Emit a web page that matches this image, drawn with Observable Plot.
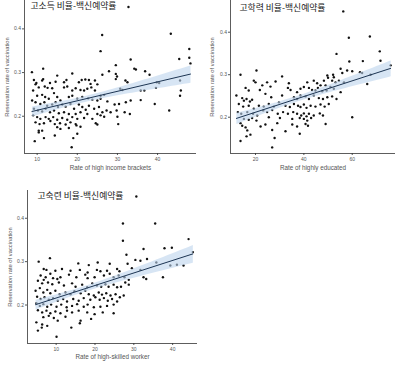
<!DOCTYPE html>
<html>
<head>
<meta charset="utf-8">
<script src="https://cdn.jsdelivr.net/npm/d3@7"></script>
<script src="https://cdn.jsdelivr.net/npm/@observablehq/plot@0.6"></script>
<style>
  html, body { margin: 0; padding: 0; background: #fff; }
  #wrap { position: relative; width: 400px; height: 365px; overflow: hidden; font-family: "Liberation Sans", Arial, sans-serif; }
  #wrap > div { position: absolute; }
</style>
</head>
<body>
<div id="wrap">
  <div id="p1" style="left:0px; top:0px;"></div>
  <div id="p2" style="left:200px; top:0px;"></div>
  <div id="p3" style="left:0px; top:183px;"></div>
</div>
<script>
// ---------- Panel 1: high income brackets ----------
const incomeX = [32.75,26.2,43.3,25.8,47.9,47.9,45.4,33.3,48.2,29.6,34.2,34.6,8.7,11.5,18.75,15,27.9,26.25,29.6,36.9,38,9.2,11.25,11.5,14.6,16.7,17.3,20.4,21.1,22,22.9,24.4,25,23.3,29.6,29.9,32,32.5,39.8,40.4,45.6,45.8,45.6,9.8,9.6,10.4,11.9,12.6,13.75,13.2,16.7,17.5,18.75,19.6,20.8,21.7,22.5,23.5,24.4,25.8,26.7,30.7,31.25,36.7,35.8,39.6,9,10,11.25,12,12.9,14.2,15,15.8,17.9,18.75,20,21.25,22.7,23.75,25,25.8,27.5,29.3,30.4,32.1,33.3,35.8,39.3,42.9,8.75,9.6,10.8,11.8,12.5,13.75,14.6,15.2,16.25,17.1,18.3,19.2,20.4,21.25,22.1,22.9,24.2,25.4,26.25,27.3,28.3,29.8,31.8,33.1,9.2,10.2,11.25,12.1,13.2,14.2,15.4,16.7,17.9,19.6,20.8,22.5,25,25.8,26.7,9,10,10.8,12.1,12.9,14,15,16.25,17.5,18.75,20,21.7,23.75,30,9.6,10.6,11.7,13.3,14.4,15.7,17.1,18.3,19.6,20.8,24.6,25,30.2,10.4,11.25,15,15.8,17.9,19.8,20,10.4,11.7,14.4,19,9.4,18.6];
const incomeY = [0.45,0.386,0.389,0.349,0.354,0.334,0.331,0.33,0.321,0.317,0.309,0.307,0.301,0.309,0.298,0.293,0.303,0.295,0.297,0.303,0.295,0.283,0.282,0.285,0.279,0.278,0.283,0.278,0.283,0.284,0.283,0.282,0.273,0.274,0.285,0.291,0.282,0.278,0.278,0.276,0.282,0.259,0.247,0.276,0.273,0.266,0.268,0.265,0.264,0.276,0.266,0.268,0.259,0.264,0.26,0.259,0.263,0.266,0.259,0.247,0.249,0.263,0.26,0.259,0.259,0.265,0.259,0.247,0.249,0.244,0.24,0.253,0.244,0.236,0.244,0.247,0.24,0.244,0.241,0.238,0.236,0.24,0.234,0.227,0.228,0.232,0.236,0.237,0.228,0.213,0.236,0.232,0.228,0.232,0.224,0.227,0.232,0.221,0.227,0.222,0.228,0.217,0.227,0.221,0.215,0.224,0.217,0.221,0.209,0.213,0.209,0.213,0.209,0.205,0.217,0.213,0.211,0.217,0.209,0.213,0.207,0.209,0.205,0.205,0.209,0.205,0.205,0.202,0.199,0.202,0.198,0.194,0.198,0.194,0.198,0.192,0.196,0.192,0.198,0.194,0.196,0.194,0.199,0.186,0.182,0.184,0.189,0.182,0.184,0.181,0.186,0.182,0.176,0.184,0.181,0.182,0.167,0.167,0.175,0.171,0.173,0.179,0.16,0.163,0.15,0.156,0.15,0.143,0.129];

// ---------- Panel 2: highly educated ----------
const eduX = [56.3,58.6,67.3,53.5,71.4,58.8,64.4,71.7,75.9,13.8,20.4,31,55.2,55.9,57.9,60,63.2,64.1,67.6,52.1,52.4,49.7,50,51.7,53.1,54.5,19.3,20,24.8,28.3,33.8,41.4,44.1,45.5,48.3,46.9,49,51,56.6,66.2,12.1,15.9,17.2,21.8,22.8,26.2,33.4,34.5,37.2,38.6,40,42.1,43.4,44.8,45.8,47.6,49.4,52.4,55.2,14.5,15.2,16.3,17.7,18.6,24.1,26.5,31,35.9,37.2,38.6,40.7,42.1,44.1,46.2,47.9,49.7,51.7,53.5,13.1,14.9,17.2,19.3,21.4,23.4,25.5,27.6,29.7,32.4,34.2,35.9,37.6,38.6,40,41.1,42.8,44.8,46.9,48.6,50.3,12.7,14.1,16.6,19,20.7,23.2,24.8,26.9,29.2,31.4,33.4,35.6,37.2,38.9,40,41.1,42.1,44.1,46.6,47.9,15.2,17.2,18.6,20.4,25.5,30.1,35.2,38.3,40,41.4,43,60,13.8,14.5,15.9,22.1,24.1,29,35.2,37.2,40.7,41.7,49,16.6,26.9,32.4,38.3,16.3,17.9,27.9,13.8,26.9];
const eduY = [0.449,0.387,0.39,0.349,0.355,0.331,0.332,0.333,0.322,0.3,0.31,0.296,0.314,0.304,0.31,0.308,0.306,0.304,0.3,0.3,0.294,0.298,0.293,0.286,0.282,0.286,0.286,0.282,0.282,0.284,0.28,0.282,0.286,0.28,0.286,0.275,0.275,0.271,0.282,0.278,0.251,0.269,0.263,0.264,0.275,0.272,0.269,0.264,0.259,0.267,0.271,0.269,0.264,0.263,0.269,0.261,0.263,0.267,0.259,0.245,0.239,0.243,0.237,0.241,0.255,0.247,0.251,0.247,0.243,0.251,0.249,0.243,0.251,0.245,0.243,0.247,0.249,0.243,0.231,0.225,0.227,0.22,0.227,0.225,0.231,0.225,0.235,0.227,0.224,0.231,0.227,0.224,0.23,0.222,0.227,0.225,0.23,0.225,0.231,0.212,0.208,0.212,0.208,0.204,0.216,0.212,0.217,0.208,0.212,0.208,0.212,0.208,0.204,0.209,0.202,0.208,0.204,0.209,0.204,0.196,0.194,0.198,0.192,0.2,0.198,0.196,0.198,0.196,0.192,0.198,0.2,0.186,0.18,0.176,0.178,0.183,0.186,0.183,0.178,0.184,0.18,0.184,0.169,0.17,0.167,0.161,0.155,0.159,0.151,0.144,0.129];

// ---------- Panel 3: high-skilled worker ----------
const skillX = [30.65,27.2,35.5,27.2,44.1,32.5,37.9,39.8,45.2,5.5,8.4,15.7,18.4,20.7,23.8,28.1,28.4,30.4,31.7,33.4,35.8,39.4,42.8,6.8,7.5,9.8,11.5,13.7,16.1,18.1,20.5,21.4,23.1,25.7,26.3,29.5,31.7,32.5,33.2,37.5,41.1,6,7.3,8.5,9.2,10.3,11.1,13.3,15.2,17.5,18.1,19.9,22.3,23.8,24.8,26.1,27.6,28.7,27.8,28.7,5.3,6.4,6.8,7.9,9,10.7,12,14.1,15,16.7,18,19.3,20.5,21.6,22.7,23.5,24.8,25.7,26.7,4.7,5.8,6.7,7.7,8.5,9.8,10.9,12.4,13.7,14.7,16.3,17.5,18.4,19.7,20.97,21.8,22.9,24,25.3,26.4,27.4,5.1,6,7,8.1,9.2,10.4,11.8,12.8,14.4,15.8,17.1,18.8,20.1,21.2,22.3,23.3,24.4,25.7,4.9,5.8,6.7,7.7,8.7,10.1,11.3,12.7,14.1,15.4,17.1,18.1,19.7,21.4,23.1,24.8,5.3,6.4,7.5,8.5,9.8,11.1,12.8,14.1,15.8,18,19.9,22,24.8,6.7,8.1,9.4,10.4,12.4,16.3,19,4.9,6.4,16.1,5.3,6.3,13.9,7.7,10.1];
const skillY = [0.45,0.388,0.388,0.348,0.352,0.329,0.331,0.332,0.322,0.3,0.308,0.296,0.292,0.298,0.295,0.316,0.295,0.304,0.302,0.306,0.298,0.291,0.291,0.283,0.281,0.279,0.283,0.279,0.281,0.275,0.281,0.278,0.279,0.283,0.278,0.285,0.281,0.264,0.26,0.264,0.293,0.268,0.264,0.272,0.262,0.26,0.264,0.27,0.264,0.27,0.262,0.264,0.268,0.272,0.264,0.268,0.264,0.258,0.252,0.247,0.256,0.25,0.258,0.252,0.248,0.252,0.245,0.25,0.242,0.247,0.241,0.25,0.245,0.242,0.248,0.242,0.247,0.241,0.242,0.233,0.239,0.229,0.235,0.227,0.233,0.225,0.229,0.225,0.232,0.227,0.233,0.225,0.222,0.229,0.224,0.227,0.222,0.225,0.218,0.222,0.219,0.214,0.218,0.212,0.216,0.21,0.214,0.208,0.214,0.21,0.216,0.212,0.218,0.212,0.216,0.21,0.214,0.208,0.204,0.198,0.202,0.196,0.201,0.196,0.201,0.195,0.198,0.202,0.196,0.201,0.195,0.196,0.198,0.201,0.188,0.183,0.187,0.181,0.185,0.181,0.187,0.183,0.187,0.183,0.179,0.183,0.181,0.172,0.175,0.17,0.164,0.173,0.164,0.168,0.16,0.155,0.158,0.141,0.148,0.148,0.152,0.127];

// ---------- Labels & ticks ----------
const titles = ["고소득 비율-백신예약률", "고학력 비율-백신예약률", "고숙련 비율-백신예약률"];
const xLabels = ["Rate of high income brackets", "Rate of highly educated", "Rate of high-skilled worker"];
const yLabel = "Reservation rate of vaccination";
const xTicks1 = [10, 20, 30, 40];
const xTicks2 = [20, 40, 60];
const xTicks3 = [10, 20, 30, 40];
const yTicks = [0.2, 0.3, 0.4];

function panel(xs, ys, cfg) {
  const data = xs.map((x, i) => ({x, y: ys[i]}));
  const [x0] = cfg.xDomain;
  const [y0] = cfg.yDomain;
  return Plot.plot({
    width: cfg.width,
    height: cfg.height,
    marginLeft: cfg.ml,
    marginRight: cfg.mr,
    marginTop: cfg.mt,
    marginBottom: cfg.mb,
    style: {fontFamily: "'Liberation Sans', Arial, sans-serif", background: "transparent", overflow: "visible"},
    x: {domain: cfg.xDomain, ticks: cfg.xTicks, label: null},
    y: {domain: cfg.yDomain, ticks: yTicks, label: null},
    marks: [
      Plot.axisX({ticks: cfg.xTicks, tickSize: 2, tickPadding: 1.5, fontSize: 5, stroke: "#555", fill: "#555", label: null}),
      Plot.axisY({ticks: yTicks, tickSize: 2, tickPadding: 1.5, fontSize: 5, stroke: "#555", fill: "#555", tickFormat: d => d.toFixed(1), label: null}),
      Plot.ruleX([x0], {stroke: "#333", strokeWidth: 0.8}),
      Plot.ruleY([y0], {stroke: "#333", strokeWidth: 0.8}),
      Plot.dot(data, {x: "x", y: "y", r: 1.2, fill: "#111", stroke: "none"}),
      Plot.linearRegressionY(data, {x: "x", y: "y", stroke: "#1d3553", strokeWidth: 1, fill: "#bcd3ec", fillOpacity: 0.6, ci: 0.95}),
      Plot.text([cfg.title], {frameAnchor: "top-left", dx: cfg.tdx, dy: cfg.tdy, textAnchor: "start", fontSize: 8.8, fill: "#222", fontFamily: "'Noto Sans CJK KR', sans-serif"}),
      Plot.text([cfg.xLabel], {frameAnchor: "bottom", dy: cfg.xlDy, fontSize: 6.3, fill: "#555"}),
      Plot.text([yLabel], {frameAnchor: "left", dx: cfg.ylDx, rotate: -90, textAnchor: "middle", lineAnchor: "middle", fontSize: 5.8, fill: "#555"})
    ]
  });
}

document.getElementById("p1").appendChild(panel(incomeX, incomeY, {
  width: 200, height: 180, ml: 24, mr: 4, mt: 0, mb: 27,
  xDomain: [6.85, 49.7], yDomain: [0.1147, 0.465], xTicks: xTicks1,
  title: titles[0], tdx: 6, tdy: 2, xLabel: xLabels[0], xlDy: 16, ylDx: -17
}));
document.getElementById("p2").appendChild(panel(eduX, eduY, {
  width: 200, height: 180, ml: 30, mr: 5, mt: 0, mb: 27,
  xDomain: [9.66, 77.9], yDomain: [0.1146, 0.4746], xTicks: xTicks2,
  title: titles[1], tdx: 9, tdy: 4, xLabel: xLabels[1], xlDy: 16, ylDx: -18
}));
document.getElementById("p3").appendChild(panel(skillX, skillY, {
  width: 200, height: 182, ml: 27, mr: 3, mt: 7, mb: 22,
  xDomain: [2.62, 46.4], yDomain: [0.1113, 0.464], xTicks: xTicks3,
  title: titles[2], tdx: 10, tdy: 2, xLabel: xLabels[2], xlDy: 15, ylDx: -17
}));
</script>
</body>
</html>
